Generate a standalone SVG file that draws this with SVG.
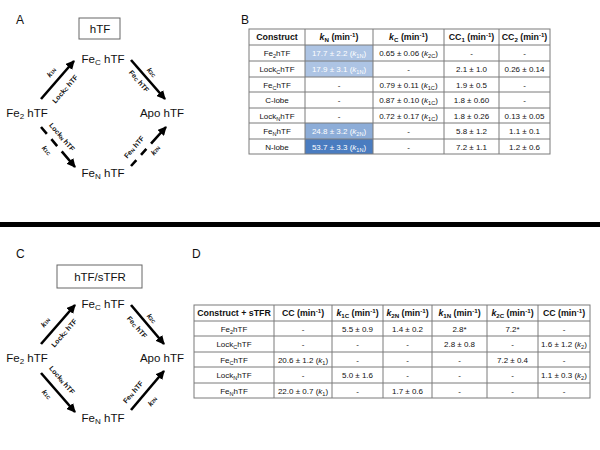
<svg xmlns="http://www.w3.org/2000/svg" width="600" height="450" viewBox="0 0 600 450">
<style>
text{font-family:"Liberation Sans",Arial,sans-serif;fill:#111}
.lbl{font-size:12px}
.node{font-size:11.5px;text-anchor:middle}
.al{font-size:7px;font-weight:bold;text-anchor:middle;dominant-baseline:central}
.arr{stroke:#000;stroke-width:2.6;fill:none;marker-end:url(#ah)}
.box{fill:#fff;stroke:#666;stroke-width:1}
.grid{stroke:#7a7a7a;stroke-width:1;fill:none}
.th{font-size:8.8px;font-weight:bold;text-anchor:middle}
.td{font-size:8px;text-anchor:middle}
.w{fill:#fff}
.sub{font-size:70%;baseline-shift:-0.3em}
.sup{font-size:70%;baseline-shift:0.55em}
</style>
<defs>
<marker id="ah" markerUnits="userSpaceOnUse" markerWidth="10" markerHeight="9" refX="8" refY="4.5" orient="auto">
<path d="M0,0 L9,4.5 L0,9 Z" fill="#000"/>
</marker>
</defs>
<rect width="600" height="450" fill="#fff"/>

<!-- Panel letters -->
<text class="lbl" x="16" y="24">A</text>
<text class="lbl" x="241" y="24">B</text>
<text class="lbl" x="16" y="258">C</text>
<text class="lbl" x="192" y="258">D</text>

<!-- separator -->
<rect x="0" y="222" width="600" height="5" fill="#000"/>

<!-- Panel A nodes -->
<g id="A-title"><rect class="box" x="79" y="18" width="41" height="21"/><text class="node" x="100" y="33">hTF</text></g>
<g id="A-FeC"><text class="node" x="103" y="63">Fe<tspan class="sub">C</tspan> hTF</text></g>
<g id="A-Fe2"><text class="node" x="27" y="117">Fe<tspan class="sub">2</tspan> hTF</text></g>
<g id="A-Apo"><text class="node" x="162" y="117">Apo hTF</text></g>
<g id="A-FeN"><text class="node" x="103" y="177">Fe<tspan class="sub">N</tspan> hTF</text></g>

<g id="A-connectors">
<line class="arr" x1="41" y1="99" x2="74" y2="61"/>
<line class="arr" x1="131" y1="60" x2="165" y2="99"/>
<line class="arr" x1="41" y1="127" x2="75" y2="167" stroke-dasharray="9 7 9 7 60"/>
<line class="arr" x1="131" y1="166" x2="166" y2="127" stroke-dasharray="8 7 8 7 60"/>
<text class="al" transform="translate(51,72) rotate(-49)"><tspan font-style="italic">k</tspan><tspan class="sub">1N</tspan></text>
<text class="al" transform="translate(65,89) rotate(-49)">Lock<tspan class="sub">C</tspan> hTF</text>
<text class="al" transform="translate(152,72) rotate(49)"><tspan font-style="italic">k</tspan><tspan class="sub">2C</tspan></text>
<text class="al" transform="translate(139,81) rotate(49)">Fe<tspan class="sub">C</tspan> hTF</text>
<text class="al" transform="translate(62,137) rotate(49)">Lock<tspan class="sub">N</tspan> hTF</text>
<text class="al" transform="translate(47,150) rotate(49)"><tspan font-style="italic">k</tspan><tspan class="sub">1C</tspan></text>
<text class="al" transform="translate(134,147) rotate(-49)">Fe<tspan class="sub">N</tspan> hTF</text>
<text class="al" transform="translate(155,150) rotate(-49)"><tspan font-style="italic">k</tspan><tspan class="sub">2N</tspan></text>
</g>

<!-- Panel C nodes -->
<g id="C-title"><rect class="box" x="57" y="265" width="85" height="23"/><text class="node" x="100" y="281">hTF/sTFR</text></g>
<g id="C-FeC"><text class="node" x="103" y="308">Fe<tspan class="sub">C</tspan> hTF</text></g>
<g id="C-Fe2"><text class="node" x="27" y="362">Fe<tspan class="sub">2</tspan> hTF</text></g>
<g id="C-Apo"><text class="node" x="162" y="362">Apo hTF</text></g>
<g id="C-FeN"><text class="node" x="103" y="422">Fe<tspan class="sub">N</tspan> hTF</text></g>

<g id="C-connectors">
<line class="arr" x1="41" y1="344" x2="75" y2="305"/>
<line class="arr" x1="131" y1="305" x2="164" y2="344"/>
<line class="arr" x1="41" y1="373" x2="75" y2="412"/>
<line class="arr" x1="131" y1="410" x2="164" y2="371"/>
<text class="al" transform="translate(45,322) rotate(-49)"><tspan font-style="italic">k</tspan><tspan class="sub">1N</tspan></text>
<text class="al" transform="translate(64,333) rotate(-49)">Lock<tspan class="sub">C</tspan> hTF</text>
<text class="al" transform="translate(152,318) rotate(49)"><tspan font-style="italic">k</tspan><tspan class="sub">2C</tspan></text>
<text class="al" transform="translate(137,327) rotate(49)">Fe<tspan class="sub">C</tspan> hTF</text>
<text class="al" transform="translate(62,380) rotate(49)">Lock<tspan class="sub">N</tspan> hTF</text>
<text class="al" transform="translate(47,394) rotate(49)"><tspan font-style="italic">k</tspan><tspan class="sub">1C</tspan></text>
<text class="al" transform="translate(133,392) rotate(-49)">Fe<tspan class="sub">N</tspan> hTF</text>
<text class="al" transform="translate(152,401) rotate(-49)"><tspan font-style="italic">k</tspan><tspan class="sub">2N</tspan></text>
</g>

<!-- Table B -->
<g id="tableB">
<rect x="305" y="45" width="68" height="32" fill="#adc4e4"/>
<rect x="305" y="123" width="68" height="16" fill="#8dadd8"/>
<rect x="305" y="139" width="68" height="15" fill="#4a7cc0"/>
<rect class="grid" x="249" y="29" width="301" height="125"/>
<path class="grid" d="M249,45H550M249,61H550M249,77H550M249,92H550M249,108H550M249,123H550M249,139H550M305,29V154M373,29V154M444,29V154M499,29V154"/>
<text class="th" x="277" y="40">Construct</text>
<text class="th" x="339" y="40"><tspan font-style="italic">k</tspan><tspan class="sub">N</tspan> (min<tspan class="sup">-1</tspan>)</text>
<text class="th" x="408.5" y="40"><tspan font-style="italic">k</tspan><tspan class="sub">C</tspan> (min<tspan class="sup">-1</tspan>)</text>
<text class="th" x="471.5" y="40">CC<tspan class="sub">1</tspan> (min<tspan class="sup">-1</tspan>)</text>
<text class="th" x="524.5" y="40">CC<tspan class="sub">2</tspan> (min<tspan class="sup">-1</tspan>)</text>

<text class="td" x="277" y="56">Fe<tspan class="sub">2</tspan>hTF</text>
<text class="td w" x="339" y="56">17.7 ± 2.2 (<tspan font-style="italic">k</tspan><tspan class="sub">1N</tspan>)</text>
<text class="td" x="408.5" y="56">0.65 ± 0.06 (<tspan font-style="italic">k</tspan><tspan class="sub">2C</tspan>)</text>
<text class="td" x="471.5" y="56">-</text>
<text class="td" x="524.5" y="56">-</text>

<text class="td" x="277" y="72">Lock<tspan class="sub">C</tspan>hTF</text>
<text class="td w" x="339" y="72">17.9 ± 3.1 (<tspan font-style="italic">k</tspan><tspan class="sub">1N</tspan>)</text>
<text class="td" x="408.5" y="72">-</text>
<text class="td" x="471.5" y="72">2.1 ± 1.0</text>
<text class="td" x="524.5" y="72">0.26 ± 0.14</text>

<text class="td" x="277" y="87.5">Fe<tspan class="sub">C</tspan>hTF</text>
<text class="td" x="339" y="87.5">-</text>
<text class="td" x="408.5" y="87.5">0.79 ± 0.11 (<tspan font-style="italic">k</tspan><tspan class="sub">1C</tspan>)</text>
<text class="td" x="471.5" y="87.5">1.9 ± 0.5</text>
<text class="td" x="524.5" y="87.5">-</text>

<text class="td" x="277" y="103">C-lobe</text>
<text class="td" x="339" y="103">-</text>
<text class="td" x="408.5" y="103">0.87 ± 0.10 (<tspan font-style="italic">k</tspan><tspan class="sub">1C</tspan>)</text>
<text class="td" x="471.5" y="103">1.8 ± 0.60</text>
<text class="td" x="524.5" y="103">-</text>

<text class="td" x="277" y="118.5">Lock<tspan class="sub">N</tspan>hTF</text>
<text class="td" x="339" y="118.5">-</text>
<text class="td" x="408.5" y="118.5">0.72 ± 0.17 (<tspan font-style="italic">k</tspan><tspan class="sub">1C</tspan>)</text>
<text class="td" x="471.5" y="118.5">1.8 ± 0.26</text>
<text class="td" x="524.5" y="118.5">0.13 ± 0.05</text>

<text class="td" x="277" y="134">Fe<tspan class="sub">N</tspan>hTF</text>
<text class="td w" x="339" y="134">24.8 ± 3.2 (<tspan font-style="italic">k</tspan><tspan class="sub">2N</tspan>)</text>
<text class="td" x="408.5" y="134">-</text>
<text class="td" x="471.5" y="134">5.8 ± 1.2</text>
<text class="td" x="524.5" y="134">1.1 ± 0.1</text>

<text class="td" x="277" y="149.5">N-lobe</text>
<text class="td w" x="339" y="149.5">53.7 ± 3.3 (<tspan font-style="italic">k</tspan><tspan class="sub">1N</tspan>)</text>
<text class="td" x="408.5" y="149.5">-</text>
<text class="td" x="471.5" y="149.5">7.2 ± 1.1</text>
<text class="td" x="524.5" y="149.5">1.2 ± 0.6</text>
</g>

<!-- Table D -->
<g id="tableD">
<rect class="grid" x="194" y="305" width="396" height="93"/>
<path class="grid" d="M194,321H590M194,336H590M194,352H590M194,367H590M194,383H590M274,305V398M332,305V398M383,305V398M432,305V398M487,305V398M538,305V398"/>
<text class="th" x="234" y="316">Construct + sTFR</text>
<text class="th" x="303" y="316">CC (min<tspan class="sup">-1</tspan>)</text>
<text class="th" x="357.5" y="316"><tspan font-style="italic">k</tspan><tspan class="sub">1C</tspan> (min<tspan class="sup">-1</tspan>)</text>
<text class="th" x="407.5" y="316"><tspan font-style="italic">k</tspan><tspan class="sub">2N</tspan> (min<tspan class="sup">-1</tspan>)</text>
<text class="th" x="459.5" y="316"><tspan font-style="italic">k</tspan><tspan class="sub">1N</tspan> (min<tspan class="sup">-1</tspan>)</text>
<text class="th" x="512.5" y="316"><tspan font-style="italic">k</tspan><tspan class="sub">2C</tspan> (min<tspan class="sup">-1</tspan>)</text>
<text class="th" x="564" y="316">CC (min<tspan class="sup">-1</tspan>)</text>

<text class="td" x="234" y="331.5">Fe<tspan class="sub">2</tspan>hTF</text>
<text class="td" x="303" y="331.5">-</text>
<text class="td" x="357.5" y="331.5">5.5 ± 0.9</text>
<text class="td" x="407.5" y="331.5">1.4 ± 0.2</text>
<text class="td" x="459.5" y="331.5">2.8*</text>
<text class="td" x="512.5" y="331.5">7.2*</text>
<text class="td" x="564" y="331.5">-</text>

<text class="td" x="234" y="347">Lock<tspan class="sub">C</tspan>hTF</text>
<text class="td" x="303" y="347">-</text>
<text class="td" x="357.5" y="347">-</text>
<text class="td" x="407.5" y="347">-</text>
<text class="td" x="459.5" y="347">2.8 ± 0.8</text>
<text class="td" x="512.5" y="347">-</text>
<text class="td" x="564" y="347">1.6 ± 1.2 (<tspan font-style="italic">k</tspan><tspan class="sub">2</tspan>)</text>

<text class="td" x="234" y="362.5">Fe<tspan class="sub">C</tspan>hTF</text>
<text class="td" x="303" y="362.5">20.6 ± 1.2 (<tspan font-style="italic">k</tspan><tspan class="sub">1</tspan>)</text>
<text class="td" x="357.5" y="362.5">-</text>
<text class="td" x="407.5" y="362.5">-</text>
<text class="td" x="459.5" y="362.5">-</text>
<text class="td" x="512.5" y="362.5">7.2 ± 0.4</text>
<text class="td" x="564" y="362.5">-</text>

<text class="td" x="234" y="378">Lock<tspan class="sub">N</tspan>hTF</text>
<text class="td" x="303" y="378">-</text>
<text class="td" x="357.5" y="378">5.0 ± 1.6</text>
<text class="td" x="407.5" y="378">-</text>
<text class="td" x="459.5" y="378">-</text>
<text class="td" x="512.5" y="378">-</text>
<text class="td" x="564" y="378">1.1 ± 0.3 (<tspan font-style="italic">k</tspan><tspan class="sub">2</tspan>)</text>

<text class="td" x="234" y="393.5">Fe<tspan class="sub">N</tspan>hTF</text>
<text class="td" x="303" y="393.5">22.0 ± 0.7 (<tspan font-style="italic">k</tspan><tspan class="sub">1</tspan>)</text>
<text class="td" x="357.5" y="393.5">-</text>
<text class="td" x="407.5" y="393.5">1.7 ± 0.6</text>
<text class="td" x="459.5" y="393.5">-</text>
<text class="td" x="512.5" y="393.5">-</text>
<text class="td" x="564" y="393.5">-</text>
</g>
</svg>
